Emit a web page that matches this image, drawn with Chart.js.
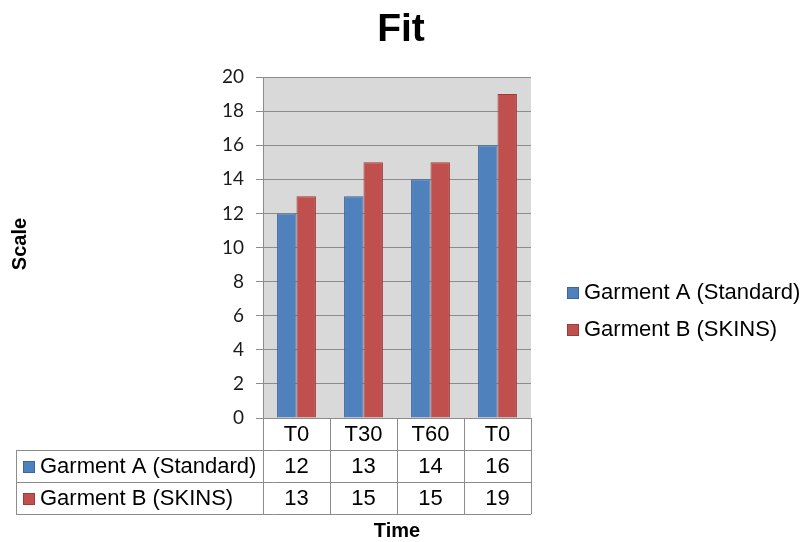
<!DOCTYPE html>
<html>
<head>
<meta charset="utf-8">
<script src="https://cdn.jsdelivr.net/npm/chart.js@4/dist/chart.umd.min.js"></script>
<style>
  html, body { margin: 0; padding: 0; background: #ffffff; }
  #wrap { width: 803px; height: 542px; position: relative; }
</style>
</head>
<body>
<div id="wrap"><canvas id="c" width="803" height="542"></canvas></div>
<script>
// Fit scores per time point for the two garments
const categories = ['T0', 'T30', 'T60', 'T0'];
const garmentA = [12, 13, 14, 16];
const garmentB = [13, 15, 15, 19];
const seriesNames = ['Garment A (Standard)', 'Garment B (SKINS)'];
const chartTitle = 'Fit';
const yTitle = 'Scale';
const xTitle = 'Time';

const fills = ['#4f81bd', '#c0504d'];
const edges = ['#3a6699', '#9c3c39'];
const tableFont = '22px "Liberation Sans", Arial, sans-serif';

// Draws the title, axis titles, legend and the data table under the plot
const decorations = {
  id: 'decorations',
  beforeDraw(chart) {
    const { ctx, chartArea: a } = chart;
    ctx.save();
    ctx.fillStyle = '#d9d9d9';
    ctx.fillRect(a.left, a.top, a.right - a.left, a.bottom - a.top);
    ctx.restore();
  },
  afterDraw(chart) {
    const { ctx, chartArea: a } = chart;
    const x = chart.scales.x;
    ctx.save();

    // title
    ctx.fillStyle = '#000';
    ctx.textAlign = 'center';
    ctx.textBaseline = 'alphabetic';
    ctx.font = 'bold 39px "Liberation Sans", Arial, sans-serif';
    ctx.fillText(chartTitle, 401, 41);

    // axis titles
    ctx.font = 'bold 20px "Liberation Sans", Arial, sans-serif';
    ctx.fillText(xTitle, 397, 537);
    ctx.save();
    ctx.translate(26, 244);
    ctx.rotate(-Math.PI / 2);
    ctx.fillText(yTitle, 0, 0);
    ctx.restore();

    // data table
    const rowH = 32;
    const top = a.bottom;
    const labelLeft = 16;
    const step = x.getPixelForValue(1) - x.getPixelForValue(0);
    const colEdges = [];
    for (let i = 0; i <= categories.length; i++) {
      colEdges.push(x.getPixelForValue(0) - step / 2 + i * step);
    }
    const right = colEdges[colEdges.length - 1];
    ctx.strokeStyle = '#8c8c8c';
    ctx.lineWidth = 1;
    ctx.beginPath();
    // horizontal lines
    ctx.moveTo(a.left, top + 0.5); ctx.lineTo(right, top + 0.5);
    for (let r = 1; r <= 3; r++) {
      const yy = Math.round(top + r * rowH) + 0.5;
      ctx.moveTo(labelLeft, yy); ctx.lineTo(right, yy);
    }
    // vertical lines
    colEdges.forEach((cx) => {
      const xx = Math.round(cx) + 0.5;
      ctx.moveTo(xx, top); ctx.lineTo(xx, top + 3 * rowH);
    });
    ctx.moveTo(labelLeft + 0.5, top + rowH); ctx.lineTo(labelLeft + 0.5, top + 3 * rowH);
    ctx.stroke();

    ctx.font = tableFont;
    ctx.fillStyle = '#000';
    ctx.textBaseline = 'middle';
    ctx.textAlign = 'center';
    categories.forEach((c, i) => {
      ctx.fillText(c, x.getPixelForValue(i), top + rowH / 2 + 1);
    });
    [garmentA, garmentB].forEach((vals, r) => {
      const cy = top + rowH * (r + 1) + rowH / 2 + 1;
      ctx.textAlign = 'center';
      vals.forEach((v, i) => ctx.fillText(String(v), x.getPixelForValue(i), cy));
      ctx.fillStyle = fills[r];
      ctx.fillRect(23, cy - 6, 12, 12);
      ctx.strokeStyle = edges[r];
      ctx.strokeRect(23.5, cy - 5.5, 11, 11);
      ctx.fillStyle = '#000';
      ctx.textAlign = 'left';
      ctx.fillText(seriesNames[r], 40, cy);
    });

    // legend
    const legendY = [293, 330];
    seriesNames.forEach((name, r) => {
      const cy = legendY[r];
      ctx.fillStyle = fills[r];
      ctx.fillRect(567, cy - 6, 12, 12);
      ctx.strokeStyle = edges[r];
      ctx.strokeRect(567.5, cy - 5.5, 11, 11);
      ctx.fillStyle = '#000';
      ctx.textAlign = 'left';
      ctx.fillText(name, 584, cy);
    });

    ctx.restore();
  }
};

new Chart(document.getElementById('c'), {
  type: 'bar',
  data: {
    labels: categories,
    datasets: [
      { label: seriesNames[0], data: garmentA, backgroundColor: fills[0], borderColor: edges[0], borderWidth: 1 },
      { label: seriesNames[1], data: garmentB, backgroundColor: fills[1], borderColor: edges[1], borderWidth: 1 }
    ]
  },
  options: {
    responsive: false,
    animation: false,
    devicePixelRatio: 1,
    layout: { padding: { left: 0, right: 272, top: 77, bottom: 124 } },
    datasets: { bar: { categoryPercentage: 0.58, barPercentage: 1.0 } },
    plugins: { legend: { display: false }, title: { display: false }, tooltip: { enabled: false } },
    scales: {
      x: { display: false, grid: { display: false } },
      y: {
        min: 0, max: 20,
        ticks: { stepSize: 2, padding: 12, color: '#1a1a1a', font: { family: 'Lato, "Open Sans", sans-serif', size: 19 } },
        grid: { color: '#8c8c8c', lineWidth: 1, tickLength: 7, drawTicks: true },
        border: { display: true, color: '#8c8c8c' },
        afterFit(scale) { scale.width = 263; }
      }
    }
  },
  plugins: [decorations]
});
</script>
</body>
</html>
